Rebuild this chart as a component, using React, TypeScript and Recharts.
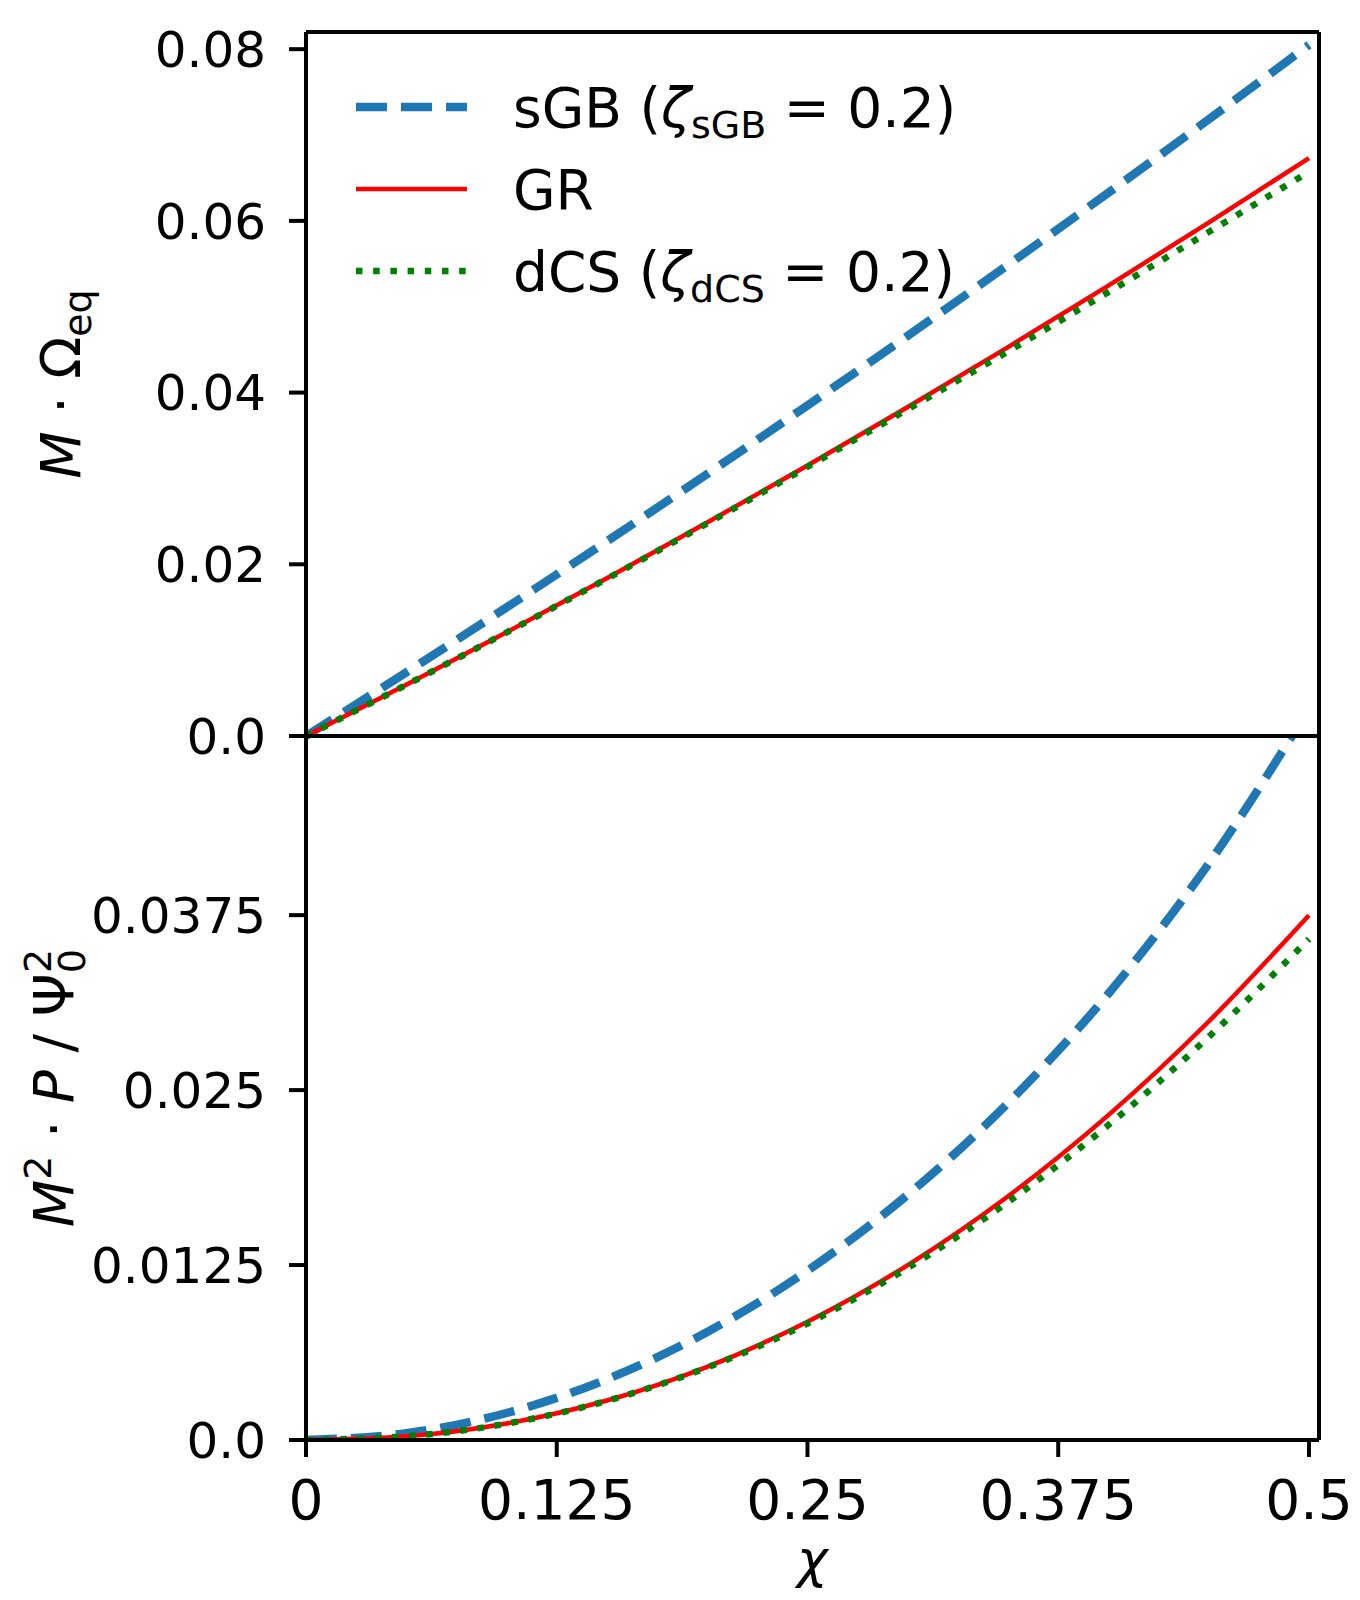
import React from "react";
import { Label, Legend, Line, LineChart, ReferenceLine, XAxis, YAxis } from "recharts";

// spin parameter chi
const chi = [0, 0.05, 0.1, 0.15, 0.2, 0.25, 0.3, 0.35, 0.4, 0.45, 0.5];

// top panel: M * Omega_eq
const omegaSGB = [0, 0.00742, 0.01498, 0.02268, 0.03052, 0.0385, 0.04662, 0.05488, 0.06328, 0.07182, 0.0805];
const omegaGR = [0, 0.00596, 0.01208, 0.01838, 0.02486, 0.0315, 0.03832, 0.0453, 0.05246, 0.0598, 0.0673];
const omegaDCS = [0, 0.00596, 0.01206, 0.01832, 0.02476, 0.03136, 0.03806, 0.0448, 0.0517, 0.0587, 0.0657];

// bottom panel: M^2 * P / Psi_0^2
const powerSGB = [0, 0.000482, 0.00193, 0.00434, 0.00772, 0.0121, 0.01753, 0.02408, 0.03189, 0.04118, 0.05224];
const powerGR = [0, 0.000266, 0.00118, 0.00282, 0.00523, 0.00845, 0.0125, 0.01742, 0.02321, 0.0299, 0.0375];
const powerDCS = [0, 0.000265, 0.00117, 0.0028, 0.00518, 0.00832, 0.0123, 0.017, 0.0225, 0.0288, 0.0358];

const chiTicks = [0, 0.125, 0.25, 0.375, 0.5];
const omegaTicks = [0, 0.02, 0.04, 0.06, 0.08];
const powerTicks = [0, 0.0125, 0.025, 0.0375];

// axis limits
const chiMax = 0.505;
const omegaMax = 0.082;
const powerMax = 0.0503;

const FONT = "DejaVu Sans";
const BLUE = "#1f77b4";
const RED = "#ff0000";
const GREEN = "#008000";

const topRows = chi.map((c, i) => ({ chi: c, sgb: omegaSGB[i], gr: omegaGR[i], dcs: omegaDCS[i] }));
const bottomRows = chi.map((c, i) => ({ chi: c, sgb: powerSGB[i], gr: powerGR[i], dcs: powerDCS[i] }));

const spine = { stroke: "#000", strokeWidth: 4 };
const yTick = { fill: "#000", fontSize: 50, fontFamily: FONT };
const xTick = { fill: "#000", fontSize: 55, fontFamily: FONT };

function LegendBox() {
  const rows = [
    { color: BLUE, width: 8.5, dash: "31 14", name: "sGB", sub: "sGB" },
    { color: RED, width: 4.5, dash: undefined, name: "GR", sub: null },
    { color: GREEN, width: 6.5, dash: "6.5 10.7", name: "dCS", sub: "dCS" },
  ];
  return (
    <svg width={700} height={260} style={{ display: "block" }}>
      {rows.map((r, i) => {
        const y = 47 + i * 82;
        return (
          <g key={r.name}>
            <line x1={16} x2={127} y1={y} y2={y} stroke={r.color} strokeWidth={r.width} strokeDasharray={r.dash} />
            <text x={173} y={y + 20} fontSize={55} fontFamily={FONT} fill="#000">
              {r.sub ? (
                <>
                  <tspan>{r.name} (</tspan>
                  <tspan fontStyle="italic">ζ</tspan>
                  <tspan fontSize={38} dy={11}>{r.sub}</tspan>
                  <tspan dy={-11}> = 0.2)</tspan>
                </>
              ) : (
                r.name
              )}
            </text>
          </g>
        );
      })}
    </svg>
  );
}

function OmegaLabel({ viewBox }: any) {
  const cx = 80;
  const cy = viewBox.y + viewBox.height / 2;
  return (
    <text x={cx} y={cy} transform={`rotate(-90 ${cx} ${cy})`} textAnchor="middle" fontSize={55} fontFamily={FONT} fill="#000">
      <tspan fontStyle="italic">M</tspan>
      <tspan> · Ω</tspan>
      <tspan fontSize={38} dy={11}>eq</tspan>
    </text>
  );
}

function PowerLabel({ viewBox }: any) {
  const cx = 73;
  const cy = viewBox.y + viewBox.height / 2;
  return (
    <text x={cx} y={cy} transform={`rotate(-90 ${cx} ${cy})`} textAnchor="middle" fontSize={55} fontFamily={FONT} fill="#000">
      <tspan fontStyle="italic">M</tspan>
      <tspan fontSize={38} dy={-22}>2</tspan>
      <tspan dy={22}> · </tspan>
      <tspan fontStyle="italic">P</tspan>
      <tspan> / Ψ</tspan>
      <tspan fontSize={38} dy={12}>0</tspan>
      <tspan fontSize={38} dx={-24} dy={-34}>2</tspan>
    </text>
  );
}

function ChiLabel({ viewBox }: any) {
  const cx = viewBox.x + viewBox.width / 2;
  return (
    <text x={cx} y={viewBox.y + 137} textAnchor="middle" fontSize={52} fontStyle="italic" fontFamily={FONT} fill="#000">
      χ
    </text>
  );
}

export default function App() {
  return (
    <div style={{ position: "absolute", left: 0, top: 0, width: 1360, height: 1600, background: "#fff" }}>
      <div style={{ position: "absolute", left: 0, top: 0 }}>
        <LineChart width={1360} height={800} data={topRows} margin={{ top: 32, right: 41, bottom: 64, left: 0 }}>
          <XAxis dataKey="chi" type="number" domain={[0, chiMax]} ticks={chiTicks} tick={false} tickLine={false} axisLine={spine} height={0} />
          <YAxis
            type="number"
            domain={[0, omegaMax]}
            ticks={omegaTicks}
            width={306}
            tick={yTick}
            tickSize={17}
            tickMargin={23}
            axisLine={spine}
            tickLine={spine}
            tickFormatter={(v: number) => (v === 0 ? "0.0" : v.toFixed(2))}
          >
            <Label content={OmegaLabel} />
          </YAxis>
          <ReferenceLine y={omegaMax} stroke="#000" strokeWidth={4} />
          <ReferenceLine x={chiMax} stroke="#000" strokeWidth={4} />
          <Legend layout="horizontal" verticalAlign="middle" align="center" wrapperStyle={{ left: 340, top: 60, width: 700 }} content={() => <LegendBox />} />
          <Line type="monotone" dataKey="sgb" name="sGB" stroke={BLUE} strokeWidth={8.5} strokeDasharray="31 14" dot={false} activeDot={false} isAnimationActive={false} />
          <Line type="monotone" dataKey="gr" name="GR" stroke={RED} strokeWidth={4.5} dot={false} activeDot={false} isAnimationActive={false} />
          <Line type="monotone" dataKey="dcs" name="dCS" stroke={GREEN} strokeWidth={6.5} strokeDasharray="6.5 10.7" dot={false} activeDot={false} isAnimationActive={false} />
        </LineChart>
      </div>
      <div style={{ position: "absolute", left: 0, top: 700 }}>
        <LineChart width={1360} height={900} data={bottomRows} margin={{ top: 36, right: 41, bottom: 0, left: 0 }}>
          <XAxis
            dataKey="chi"
            type="number"
            domain={[0, chiMax]}
            ticks={chiTicks}
            height={160}
            tick={xTick}
            tickSize={17}
            tickMargin={23}
            axisLine={spine}
            tickLine={spine}
            tickFormatter={(v: number) => (v === 0 ? "0" : String(v))}
          >
            <Label content={ChiLabel} />
          </XAxis>
          <YAxis
            type="number"
            domain={[0, powerMax]}
            allowDataOverflow
            ticks={powerTicks}
            width={306}
            tick={yTick}
            tickSize={17}
            tickMargin={23}
            axisLine={spine}
            tickLine={spine}
            tickFormatter={(v: number) => (v === 0 ? "0.0" : String(v))}
          >
            <Label content={PowerLabel} />
          </YAxis>
          <Line type="monotone" dataKey="sgb" stroke={BLUE} strokeWidth={8.5} strokeDasharray="31 14" dot={false} activeDot={false} isAnimationActive={false} />
          <Line type="monotone" dataKey="gr" stroke={RED} strokeWidth={4.5} dot={false} activeDot={false} isAnimationActive={false} />
          <Line type="monotone" dataKey="dcs" stroke={GREEN} strokeWidth={6.5} strokeDasharray="6.5 10.7" dot={false} activeDot={false} isAnimationActive={false} />
          <ReferenceLine y={powerMax} stroke="#000" strokeWidth={4} />
          <ReferenceLine x={chiMax} stroke="#000" strokeWidth={4} />
        </LineChart>
      </div>
    </div>
  );
}
